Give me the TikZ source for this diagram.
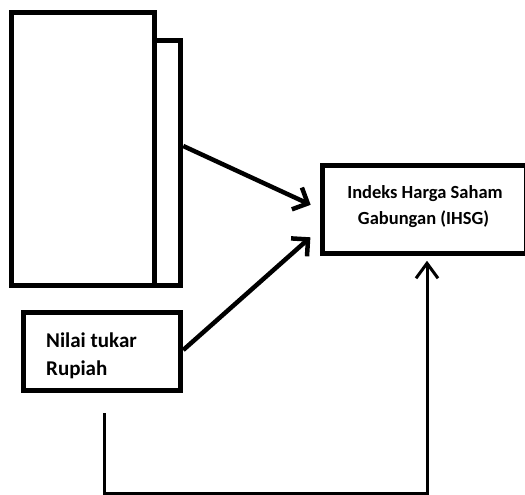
\documentclass[tikz,border=0pt]{standalone}
\usepackage{fontspec}
\setmainfont{Carlito}
\usetikzlibrary{arrows.meta}
\begin{document}
\begin{tikzpicture}[x=1pt,y=-1pt,
  boxstyle/.style={draw=black, line width=5.5pt, fill=white, inner sep=0pt, rectangle},
  lbl/.style={font=\fontsize{21}{28}\selectfont\bfseries, inner sep=0pt},
  lbls/.style={font=\fontsize{18.5}{26}\selectfont\bfseries, inner sep=0pt},
  arr/.style={line width=4.5pt, -{Straight Barb[length=12pt,width=24pt]}},
  linkarr/.style={line width=3pt, -{Straight Barb[length=15pt,width=22pt]}}
]
\useasboundingbox (0,0) rectangle (525,495);
\node[boxstyle, minimum width=26pt, minimum height=245pt] (fb) at (167.5,163) {};
\node[boxstyle, minimum width=143pt, minimum height=273pt] (fa) at (83,149) {};
\node[boxstyle, minimum width=157pt, minimum height=78pt] (nr) at (102,351.5) {};
\node[lbl, anchor=base west] (nr1) at (46,347) {Nilai tukar};
\node[lbl, anchor=base west] (nr2) at (46,375) {Rupiah};
\node[boxstyle, minimum width=204pt, minimum height=88pt] (ih) at (424.5,209.5) {};
\node[lbls, anchor=base] (ih1) at (425,198) {Indeks Harga Saham};
\node[lbls, anchor=base] (ih2) at (423.5,224) {Gabungan (IHSG)};
\draw[arr, shorten >=10pt] (fb.east |- 0,146) -- (ih.west |- 0,209);
\draw[arr, shorten >=12.5pt] (nr.east |- 0,350) -- (ih.west |- 0,229);
\coordinate (c0) at (104,413);
\coordinate (c1) at (427,493);
\draw[linkarr, shorten >=4.5pt] (c0) |- (c1) -- (c1 |- ih.south);
\end{tikzpicture}
\end{document}
